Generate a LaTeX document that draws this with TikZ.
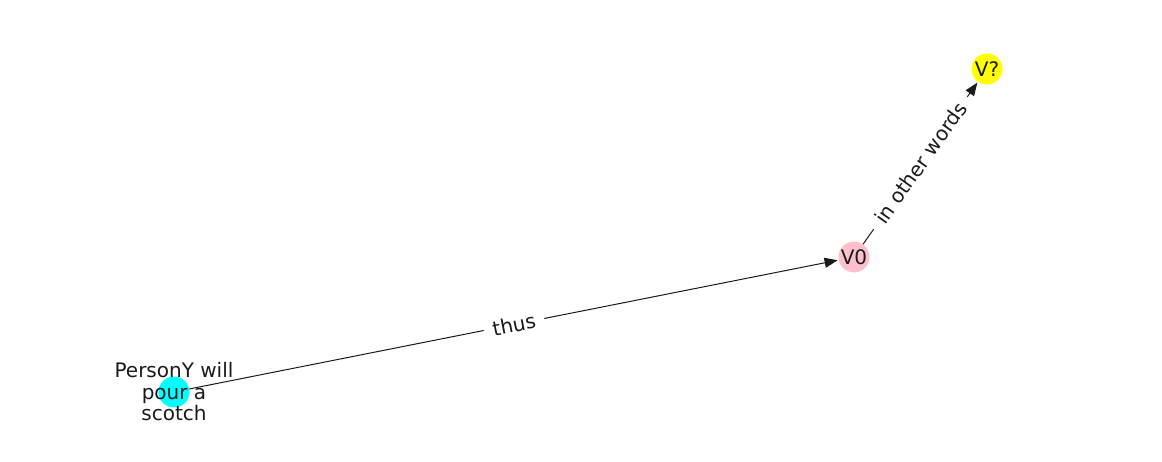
\documentclass[tikz,border=0pt]{standalone}
\usepackage{fontspec}
\setmainfont{DejaVu Sans}
\usetikzlibrary{arrows.meta}
\definecolor{txt}{HTML}{1A1A1A}
\definecolor{ncyan}{RGB}{0,255,255}
\definecolor{npink}{RGB}{255,192,203}
\definecolor{nyellow}{RGB}{255,255,0}
\tikzset{
  vertex/.style={circle, minimum size=31pt, inner sep=0pt, draw=none},
  vlabel/.style={text=txt, font=\fontsize{20}{21.5}\selectfont, align=center, inner sep=0pt},
  edge/.style={draw=txt, line width=1pt, -{Triangle[length=13pt,width=10pt]}, shorten >=1pt},
  elabel/.style={text=txt, font=\fontsize{20}{22}\selectfont, fill=white, inner xsep=9pt, inner ysep=3pt, sloped, midway}
}
\begin{document}
\begin{tikzpicture}[x=1pt,y=1pt]
\useasboundingbox (0,0) rectangle (1162,462);
\node[vertex, fill=ncyan] (a) at (174,70) {};
\node[vertex, fill=npink] (b) at (854,205) {};
\node[vertex, fill=nyellow] (c) at (987,393) {};
\path[edge] (a) -- (b) node[elabel] {thus};
\path[edge] (b) -- (c) node[elabel] {in other words};
\node[vlabel] (ta) at (174,70) {PersonY will\\pour a\\scotch};
\node[vlabel] (tb) at (854,205) {V0};
\node[vlabel] (tc) at (987,393) {V?};
\end{tikzpicture}
\end{document}
